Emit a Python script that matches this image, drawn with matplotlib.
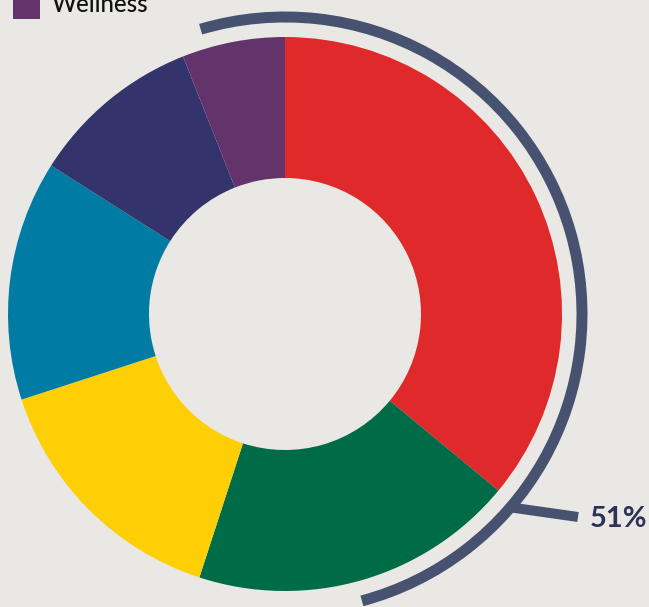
import matplotlib
matplotlib.use("Agg")
import matplotlib.pyplot as plt
from matplotlib.patches import Arc, Rectangle

# Data (clockwise from 12 o'clock)
shares = [36, 19, 15, 14, 10, 6]
colors = ["#E0292A", "#006B47", "#FFCF06", "#007BA3", "#32346B", "#63346C"]
legend_label = "Wellness"          # only visible legend entry (last slice)
highlight_label = "51%"
highlight_start_clock = -16.5      # degrees clockwise from 12 o'clock
highlight_end_clock = 165.0

BG = "#E9E8E4"
ARC = "#46526F"
W, H = 649, 607

fig = plt.figure(figsize=(W / 100, H / 100), dpi=100, facecolor=BG)
ax = fig.add_axes([0, 0, 1, 1])
ax.set_facecolor(BG)

cx, cy = 285, H - 314
R, r_in = 277, 136

ax.pie(shares, colors=colors, startangle=90, counterclock=False,
       radius=R, center=(cx, cy),
       wedgeprops=dict(width=R - r_in, linewidth=0))
ax.set_xlim(0, W)
ax.set_ylim(0, H)
ax.set_aspect("equal")
ax.axis("off")

# highlight arc
px = 72 / 100
arc_r = 297
arc = Arc((cx, cy), 2 * arc_r, 2 * arc_r,
          theta1=90 - highlight_end_clock, theta2=90 - highlight_start_clock,
          color=ARC, linewidth=11 * px, capstyle="butt")
ax.add_patch(arc)

# leader line
ax.plot([508, 578], [H - 507, H - 517], color=ARC, linewidth=10 * px,
        solid_capstyle="butt")
ax.text(590, H - 519, highlight_label, ha="left", va="center",
        fontsize=29 * px, family="Lato", fontweight="bold", color="#2C3357")

# partially visible legend entry
ax.add_patch(Rectangle((13, H - 19), 27, 40, facecolor=colors[-1],
                       edgecolor="none", clip_on=False))
ax.text(52, H - 12, legend_label, ha="left", va="baseline",
        fontsize=24 * px, family="Lato", fontweight="medium", color="#111111")

fig.savefig("out.png", dpi=100, facecolor=BG)
